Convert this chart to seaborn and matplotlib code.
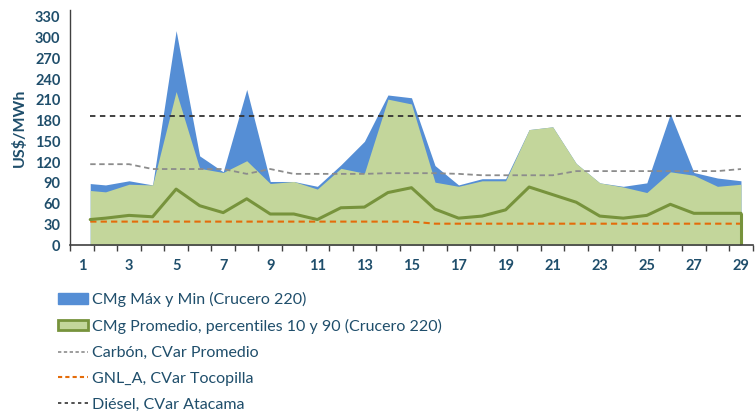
import numpy as np
import pandas as pd
import matplotlib
matplotlib.use("Agg")
import matplotlib.pyplot as plt
import seaborn as sns
from matplotlib.patches import Patch
from matplotlib.lines import Line2D

# Días del mes (el primer punto arranca un poco después del 1 en el original)
dias = [1.35, 2, 3, 4, 5, 6, 7, 8, 9, 10, 11, 12, 13, 14, 15,
        16, 17, 18, 19, 20, 21, 22, 23, 24, 25, 26, 27, 28, 29]

cmg_max = [89, 87, 93, 87, 310, 129, 106, 225, 92, 92, 85, 116, 150, 217, 213,
           115, 87, 96, 96, 167, 171, 118, 90, 85, 90, 190, 105, 97, 93]
cmg_p90 = [79, 77, 88, 87, 222, 111, 105, 122, 89, 92, 81, 111, 104, 211, 204,
           91, 85, 93, 93, 167, 171, 118, 90, 84, 76, 106, 101, 85, 88]
cmg_prom = [37, 39, 43, 41, 81, 57, 47, 67, 45, 45, 37, 54, 55, 76, 83,
            52, 39, 42, 51, 84, 73, 62, 42, 39, 43, 59, 46, 46, 46]
carbon = [117, 117, 117, 110, 110, 110, 110, 103, 110, 103, 103, 103, 103, 104, 104,
          104, 103, 101, 101, 101, 101, 107, 107, 107, 107, 107, 107, 107, 110]
gnl = [34, 34, 34, 34, 34, 34, 34, 34, 34, 34, 34, 34, 34, 34, 34,
       31, 31, 31, 31, 31, 31, 31, 31, 31, 31, 31, 31, 31, 31]
diesel = [187] * 29

xticks = list(range(1, 30, 2))
yticks = list(range(0, 331, 30))

df = pd.DataFrame({"dia": dias, "max": cmg_max, "p90": cmg_p90, "prom": cmg_prom,
                   "carbon": carbon, "gnl": gnl, "diesel": diesel})

sns.set_theme(style="white")
plt.rcParams["font.family"] = ["Lato", "DejaVu Sans"]

azul = "#558ed5"
verde = "#c3d69b"
verde_osc = "#77933c"
gris = "#8c8c8c"
naranja = "#e46c0a"
negro = "#333333"
txt = "#1f4e6b"

fig = plt.figure(figsize=(7.55, 4.12), dpi=100)
ax = fig.add_axes([0.093, 0.405, 0.904, 0.571])

ax.fill_between(df["dia"], df["max"], color=azul, lw=0)
ax.fill_between(df["dia"], df["p90"], color=verde, lw=0)
sns.lineplot(data=df, x="dia", y="carbon", ax=ax, color=gris, lw=1.3, linestyle=(0, (3, 2)))
sns.lineplot(data=df, x="dia", y="gnl", ax=ax, color=naranja, lw=1.5, linestyle=(0, (3, 2)))
sns.lineplot(data=df, x="dia", y="diesel", ax=ax, color=negro, lw=1.3, linestyle=(0, (3, 2.5)))
sns.lineplot(data=df, x="dia", y="prom", ax=ax, color=verde_osc, lw=2.2)
ax.vlines(df["dia"].iloc[-1], 0, df["prom"].iloc[-1], color=verde_osc, lw=2.2)

ax.set_xlim(0.5, 29.5)
ax.set_ylim(0, 340)
ax.set_xticks(xticks)
ax.set_xticks(np.arange(0.5, 30, 1), minor=True)
ax.set_yticks(yticks)
ax.tick_params(axis="x", which="major", length=0, pad=10, labelsize=10.5, labelcolor=txt)
ax.tick_params(axis="x", which="minor", length=4, width=1, color="#404040", direction="out", bottom=True)
ax.tick_params(axis="y", length=0, pad=7, labelsize=10.5, labelcolor=txt)
for lab in ax.get_xticklabels() + ax.get_yticklabels():
    lab.set_fontweight("bold")
ax.set_xlabel("")
ax.set_ylabel("US$/MWh", fontsize=11.5, fontweight="bold", color=txt, labelpad=6)
for s in ["top", "right"]:
    ax.spines[s].set_visible(False)
ax.spines["left"].set_color("#404040")
ax.spines["bottom"].set_color("#404040")
ax.spines["left"].set_linewidth(1)
ax.spines["bottom"].set_linewidth(1.2)

handles = [
    Patch(facecolor=azul, edgecolor=azul),
    Patch(facecolor=verde, edgecolor=verde_osc, linewidth=2),
    Line2D([], [], color=gris, lw=1.2, linestyle=(0, (2, 1.5))),
    Line2D([], [], color=naranja, lw=1.5, linestyle=(0, (2, 1.5))),
    Line2D([], [], color=negro, lw=1.2, linestyle=(0, (2, 2))),
]
labels = ["CMg Máx y Min (Crucero 220)",
          "CMg Promedio, percentiles 10 y 90 (Crucero 220)",
          "Carbón, CVar Promedio",
          "GNL_A, CVar Tocopilla",
          "Diésel, CVar Atacama"]
leg = fig.legend(handles, labels, loc="upper left", bbox_to_anchor=(0.077, 0.291),
                 frameon=False, fontsize=11.5, handlelength=1.9, handleheight=0.6,
                 handletextpad=0.2, labelspacing=0.74, borderpad=0, borderaxespad=0)
for t in leg.get_texts():
    t.set_color(txt)

fig.savefig("out.png", dpi=100)
